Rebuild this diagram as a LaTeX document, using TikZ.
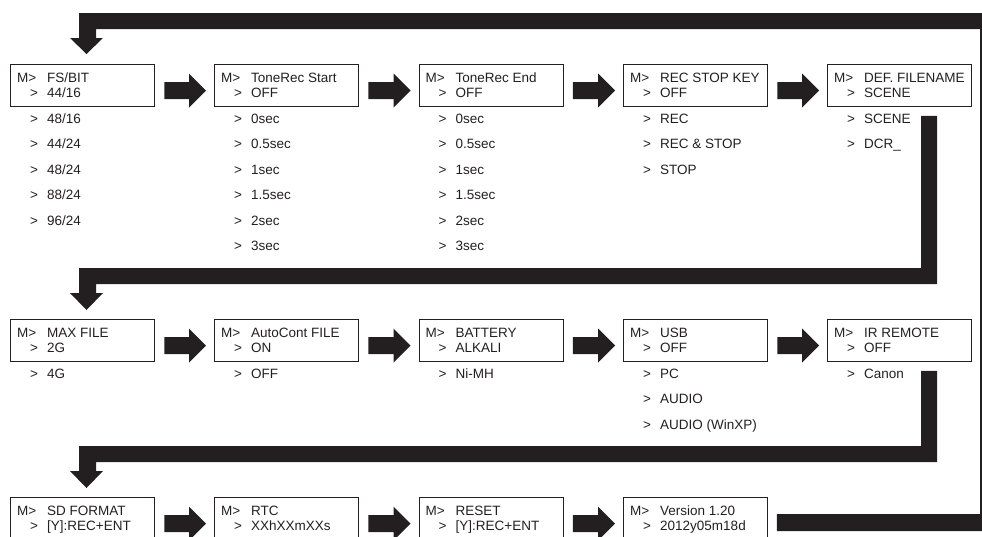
\documentclass[tikz,border=0pt]{standalone}
\usepackage{fontspec}
\setmainfont{Liberation Sans}
\usetikzlibrary{calc}
\definecolor{ink}{HTML}{231F20}
\newcommand\menubox[5]{%
  \node[box] (#1) at (#2,-#3) {};
  \node[txt] (#1m) at ($(#1.north west)+(7,-18)$) {M>};
  \node[txt] (#1t) at ($(#1.north west)+(37,-18)$) {#4};
  \node[txt] (#1g) at ($(#1.north west)+(20,-33.5)$) {>};
  \node[txt] (#1v) at ($(#1.north west)+(37,-33.5)$) {#5};
}
\newcommand\menuopts[2]{%
  \foreach \s [count=\i] in {#2} {
    \node[txt] (#1g\i) at ($(#1.north west)+(20,{-59.5-25.4*(\i-1)})$) {>};
    \node[txt] (#1o\i) at ($(#1.north west)+(37,{-59.5-25.4*(\i-1)})$) {\s};
  }
}
\newcommand\harrow[2]{%
  \fill[blk] ($(#1.north east)+(9.5,-18)$) -- ($(#2.north west)+(-25,-18)$)
    -- ($(#2.north west)+(-25,-9.5)$) -- ($(#2.north west)+(-8,-26.5)$)
    -- ($(#2.north west)+(-25,-43.5)$) -- ($(#2.north west)+(-25,-35)$)
    -- ($(#1.north east)+(9.5,-35)$) -- cycle;
}
\newcommand\bent[2]{%
  \coordinate (#1ba) at ($(#1.south west)+(94,-9)$);
  \coordinate (#1bb) at ($(#1.south west)+(110,-9)$);
  \coordinate (#2hb) at ($(#2.north west)+(86,35)$);
  \coordinate (#2ht) at ($(#2.north west)+(69,51)$);
  \fill[blk] (#1ba) -- (#1bb) -- (#1bb |- #2hb) -- (#2hb)
    -- ($(#2.north west)+(86,26)$) -- ($(#2.north west)+(93,26)$)
    -- ($(#2.north west)+(76.5,9)$) -- ($(#2.north west)+(60,26)$)
    -- ($(#2.north west)+(69,26)$) -- (#2ht) -- (#1ba |- #2ht) -- cycle;
}
\begin{document}
\begin{tikzpicture}[x=1pt,y=1pt,
  box/.style={draw=ink,line width=0.9pt,minimum width=144pt,minimum height=42pt,inner sep=0pt,anchor=north west},
  txt/.style={anchor=base west,inner sep=0pt,font=\fontsize{13.5}{16}\selectfont,text=ink},
  blk/.style={fill=ink}]
\useasboundingbox (0,0) rectangle (982,-536);
\clip (0,0) rectangle (982,-536);
% row 1
\menubox{fs}{10}{64}{FS/BIT}{44/16}
\menuopts{fs}{48/16,44/24,48/24,88/24,96/24}
\menubox{ts}{214}{64}{ToneRec Start}{OFF}
\menuopts{ts}{0sec,0.5sec,1sec,1.5sec,2sec,3sec}
\menubox{te}{418.5}{64}{ToneRec End}{OFF}
\menuopts{te}{0sec,0.5sec,1sec,1.5sec,2sec,3sec}
\menubox{rs}{623}{64}{REC STOP KEY}{OFF}
\menuopts{rs}{REC,REC \& STOP,STOP}
\menubox{fn}{827}{64}{DEF. FILENAME}{SCENE}
\menuopts{fn}{SCENE,DCR\_}
% row 2
\menubox{mf}{10}{319}{MAX FILE}{2G}
\menuopts{mf}{4G}
\menubox{ac}{214}{319}{AutoCont FILE}{ON}
\menuopts{ac}{OFF}
\menubox{bt}{418.5}{319}{BATTERY}{ALKALI}
\menuopts{bt}{Ni-MH}
\menubox{us}{623}{319}{USB}{OFF}
\menuopts{us}{PC,AUDIO,AUDIO (WinXP)}
\menubox{ir}{827}{319}{IR REMOTE}{OFF}
\menuopts{ir}{Canon}
% row 3
\menubox{sd}{10}{497}{SD FORMAT}{[Y]:REC+ENT}
\menubox{rt}{214}{497}{RTC}{XXhXXmXXs}
\menubox{re}{418.5}{497}{RESET}{[Y]:REC+ENT}
\menubox{vr}{623}{497}{Version 1.20}{2012y05m18d}
% arrows
\harrow{fs}{ts}\harrow{ts}{te}\harrow{te}{rs}\harrow{rs}{fn}
\harrow{mf}{ac}\harrow{ac}{bt}\harrow{bt}{us}\harrow{us}{ir}
\harrow{sd}{rt}\harrow{rt}{re}\harrow{re}{vr}
\bent{fn}{mf}
\bent{ir}{sd}
% loop back from Version to FS/BIT
\coordinate (ri) at (980,0);
\coordinate (ro) at (1000,0);
\coordinate (lt) at ($(fs.north west)+(69,51)$);
\coordinate (lb) at ($(fs.north west)+(86,35)$);
\coordinate (vt) at ($(vr.north east)+(9,-17)$);
\coordinate (vb) at ($(vr.north east)+(9,-34)$);
\fill[blk] (lt) -- (ro |- lt) -- (ro |- vb) -- (vb) -- (vt) -- (ri |- vt)
  -- (ri |- lb) -- (lb)
  -- ($(fs.north west)+(86,26)$) -- ($(fs.north west)+(93,26)$)
  -- ($(fs.north west)+(76.5,10)$) -- ($(fs.north west)+(60,26)$)
  -- ($(fs.north west)+(69,26)$) -- cycle;
\end{tikzpicture}
\end{document}
